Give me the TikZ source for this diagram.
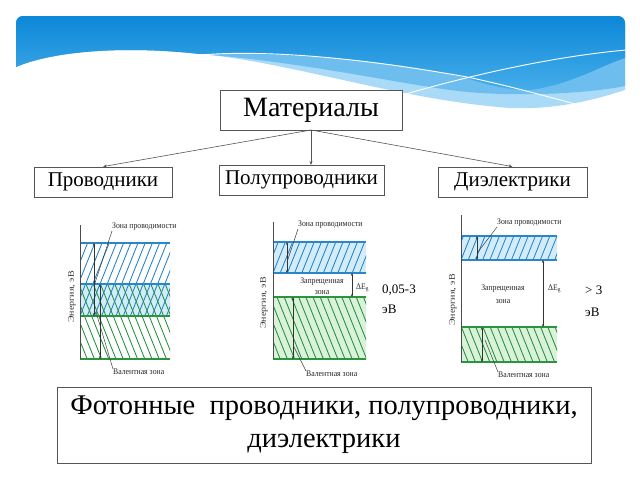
\documentclass[tikz,border=0pt]{standalone}
\usepackage{fontspec}
\setmainfont{Liberation Serif}
\usetikzlibrary{arrows.meta}
\definecolor{bdark}{HTML}{0C87D7}
\definecolor{bdarklow}{HTML}{45ADEA}
\definecolor{bmid}{HTML}{6DBDEE}
\definecolor{blight}{HTML}{A9DAF7}
\definecolor{hblue}{HTML}{2A86C8}
\definecolor{hgreen}{HTML}{2A9440}
\definecolor{lblue}{HTML}{D3ECFA}
\definecolor{lgreen}{HTML}{DAF1DA}
\definecolor{edge}{HTML}{555555}
\newcommand\myhatch[6]{%
  \begin{scope}
    \clip (#1,#2) rectangle (#3,#4);
    \foreach \k in {-20,...,30}{
      \draw[#5, line width=0.85pt] ({#1+\k*7.2},#4) -- ++({#6*0.4*(#4-#2)},{-(#4-#2)});
    }
  \end{scope}}
\tikzset{
  box/.style={draw=edge, line width=0.8pt, fill=white, inner sep=0pt},
  conn/.style={draw=edge, line width=0.6pt, -{Stealth[length=4pt,width=3pt]}},
  bline/.style={draw=hblue, line width=1.2pt},
  gline/.style={draw=hgreen, line width=1.2pt},
  axisline/.style={draw=black!70, line width=0.7pt},
  leader/.style={draw=black!75, line width=0.5pt},
  darr/.style={draw=black!80, line width=0.5pt, {Stealth[length=3pt,width=2.4pt]}-{Stealth[length=3pt,width=2.4pt]}},
  small/.style={font=\fontsize{8.6}{9.5}\selectfont, inner sep=0pt, text=black!85, xscale=0.9},
  enlab/.style={font=\fontsize{10}{11}\selectfont, inner sep=0pt, text=black!80, rotate=90, yscale=0.85},
  side/.style={font=\fontsize{13}{15}\selectfont, inner sep=0pt, anchor=west},
}
\begin{document}
\begin{tikzpicture}[x=1pt,y=-1pt]
\useasboundingbox (0,0) rectangle (640,480);
% banner
\begin{scope}
  \clip[rounded corners=7pt] (16,16) rectangle (625,140);
  \fill[blight] (16,16) -- (16,67) .. controls (50,52) and (120,45) .. (200,54)
     .. controls (290,62) and (400,100) .. (510,108) .. controls (560,110) and (600,98) .. (625,90) -- (625,16) -- cycle;
  \fill[bmid] (16,16) -- (16,67) .. controls (50,52) and (120,45) .. (200,54)
     .. controls (300,62) and (380,80) .. (450,90) .. controls (500,97) and (580,95) .. (625,86) -- (625,16) -- cycle;
  \shade[top color=bdark, bottom color=bdarklow] (16,16) -- (16,67) .. controls (50,52) and (120,45) .. (200,54)
     .. controls (300,52) and (400,62) .. (467,78) .. controls (490,86) and (510,90) .. (530,90)
     .. controls (570,85) and (600,66) .. (625,58) -- (625,16) -- cycle;
  \draw[white, line width=0.9pt] (200,55) .. controls (260,50) and (350,56) .. (467,77) .. controls (510,86) and (545,96) .. (575,104);
  \draw[white, line width=0.9pt] (392,98) .. controls (480,72) and (560,56) .. (626,50);
\end{scope}
% boxes
\node[box, minimum width=182pt, minimum height=40pt, font=\fontsize{28}{30}\selectfont] (mat) at (311,110) {Материалы};
\node[box, minimum width=138pt, minimum height=30pt, font=\fontsize{21}{22}\selectfont] (prov) at (103,182) {Проводники};
\node[box, minimum width=165pt, minimum height=30pt, font=\fontsize{21}{22}\selectfont] (semi) at (301.5,180) {Полупроводники};
\node[box, minimum width=149pt, minimum height=30pt, font=\fontsize{21}{22}\selectfont] (diel) at (512.5,182) {Диэлектрики};
\coordinate (top) at (311,130);
\draw[conn] (top) -- (prov.north);
\draw[conn] (top) -- (311,165);
\draw[conn] (top) -- (diel.north);
% ---------- diagram 1
\fill[lblue] (80,284) rectangle (170,316);
\myhatch{80}{243}{170}{316}{hblue}{1}
\myhatch{80}{284}{170}{359}{hgreen}{-1}
\draw[bline] (80,243) -- (170,243);
\draw[bline] (80,284) -- (170,284);
\draw[gline] (80,316) -- (170,316);
\draw[gline] (80,359) -- (170,359);
\draw[axisline] (80,225) -- (80,359);
\draw[darr] (94,243) -- (94,316);
\draw[darr] (100,284) -- (100,359);
\node[small, anchor=south west] (c1) at (112,231) {Зона проводимости};
\node[small, anchor=north west] (v1) at (113,369) {Валентная зона};
\draw[leader] (c1.south west) -- (95,283);
\draw[leader] (v1.north west) -- (96,312);
\node[enlab] (e1) at (72,297) {Энергия, эВ};
% ---------- diagram 2
\fill[lblue] (273,242) rectangle (366,273);
\fill[lgreen] (273,297) rectangle (366,359);
\myhatch{273}{242}{366}{273}{hblue}{1}
\myhatch{273}{297}{366}{359}{hgreen}{-1}
\draw[bline] (273,242) -- (366,242);
\draw[bline] (273,273) -- (366,273);
\draw[gline] (273,297) -- (366,297);
\draw[gline] (273,359) -- (366,359);
\draw[axisline] (273,222) -- (273,359);
\draw[darr] (287,242) -- (287,273);
\draw[darr] (293,297) -- (293,359);
\draw[darr] (352,273) -- (352,297);
\node[small, anchor=west] (g2) at (356,288) {ΔE\textsubscript{g}};
\node[small, align=center] (z2) at (322,286) {Запрещенная\\[1pt]зона};
\node[small, anchor=south west] (c2) at (298,229) {Зона проводимости};
\node[small, anchor=north west] (v2) at (306,371) {Валентная зона};
\draw[leader] (c2.south west) -- (287,262);
\draw[leader] (v2.north west) -- (293,345);
\node[enlab] (e2) at (264,303) {Энергия, эВ};
\node[side] (s2a) at (382,290) {0,05-3};
\node[side] (s2b) at (382,309) {эВ};
% ---------- diagram 3
\fill[lblue] (461,236) rectangle (557,260);
\fill[lgreen] (461,327) rectangle (557,362);
\myhatch{461}{236}{557}{260}{hblue}{1}
\myhatch{461}{327}{557}{362}{hgreen}{-1}
\draw[bline] (461,236) -- (557,236);
\draw[bline] (461,260) -- (557,260);
\draw[gline] (461,327) -- (557,327);
\draw[gline] (461,362) -- (557,362);
\draw[axisline] (461,215) -- (461,362);
\draw[darr] (477,236) -- (477,260);
\draw[darr] (482,327) -- (482,362);
\draw[darr] (543,260) -- (543,327);
\node[small, anchor=west] (g3) at (548,289) {ΔE\textsubscript{g}};
\node[small, align=center] (z3) at (503,294) {Запрещенная\\[3pt]зона};
\node[small, anchor=south west] (c3) at (497,227) {Зона проводимости};
\node[small, anchor=north west] (v3) at (498,372) {Валентная зона};
\draw[leader] (c3.south west) -- (478,252);
\draw[leader] (v3.north west) -- (485,340);
\node[enlab] (e3) at (453,300) {Энергия, эВ};
\node[side] (s3a) at (585,290) {> 3};
\node[side] (s3b) at (585,312) {эВ};
% bottom box
\node[box, minimum width=534pt, minimum height=76pt, align=center, font=\fontsize{28.5}{33}\selectfont] (phot) at (324,425) {Фотонные\ \ проводники, полупроводники,\\диэлектрики};
\end{tikzpicture}
\end{document}
